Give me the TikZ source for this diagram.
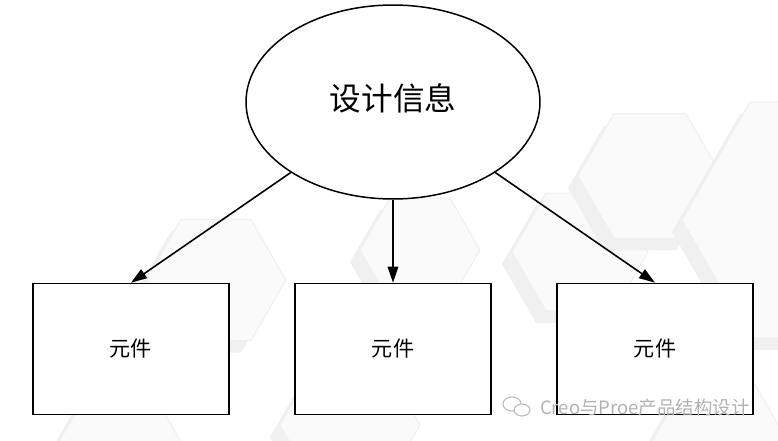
\documentclass[tikz,border=0pt]{standalone}
\usepackage{fontspec}
\newfontfamily\cjk{Noto Sans CJK SC}
\usetikzlibrary{arrows.meta,positioning,shapes.geometric}

\begin{document}
\begin{tikzpicture}[
  x=0.02cm, y=-0.02cm,
  node distance=1.66cm and 1.3cm,
  info/.style={ellipse, draw, line width=0.85pt, minimum width=5.88cm, minimum height=3.88cm, fill=white, font=\cjk\fontsize{18}{20}\selectfont},
  part/.style={rectangle, draw, line width=0.6pt, minimum width=3.92cm, minimum height=2.62cm, fill=white, font=\cjk\fontsize{12}{14}\selectfont},
  arrow/.style={-{Triangle[length=3.2mm, width=2.1mm]}, line width=0.9pt},
  hexbg/.style={fill=gray!4, draw=gray!12, line width=0.6pt},
  hexshadow/.style={fill=gray!12},
  wmtext/.style={text=gray!60, font=\cjk\fontsize{10.5}{12}\selectfont}
]
  \useasboundingbox (0,0) rectangle (778,440);
  % faint hexagons behind the diagram
  \foreach \cx/\cy/\r in {120/440/60, 216/280/70, 420/250/60, 350/425/70, 580/252/68, 650/176/72, 818/220/136, 720/445/70} {
    \fill[hexshadow] (\cx-10,\cy+12) +(0:\r) -- +(60:\r) -- +(120:\r) -- +(180:\r) -- +(240:\r) -- +(300:\r) -- cycle;
    \draw[hexbg] (\cx,\cy) +(0:\r) -- +(60:\r) -- +(120:\r) -- +(180:\r) -- +(240:\r) -- +(300:\r) -- cycle;
  }

  \node[info] (design) at (393,102) {\raisebox{0.18cm}{设计信息}};
  \node[part, below=of design] (part2) {元件};
  \node[part, left=of part2] (part1) {元件};
  \node[part, right=of part2] (part3) {元件};
  \draw[arrow] (design) -- (part1.north);
  \draw[arrow] (design) -- (part2);
  \draw[arrow] (design) -- (part3.north);

  % watermark
  \draw[gray!55, line width=0.6pt] (512,404) ellipse (9 and 7);
  \draw[gray!55, line width=0.6pt, fill=white] (522,410) ellipse (8 and 6);
  \node[wmtext, anchor=west] (wm) at (534,408) {Creo与Proe产品结构设计};
\end{tikzpicture}
\end{document}
